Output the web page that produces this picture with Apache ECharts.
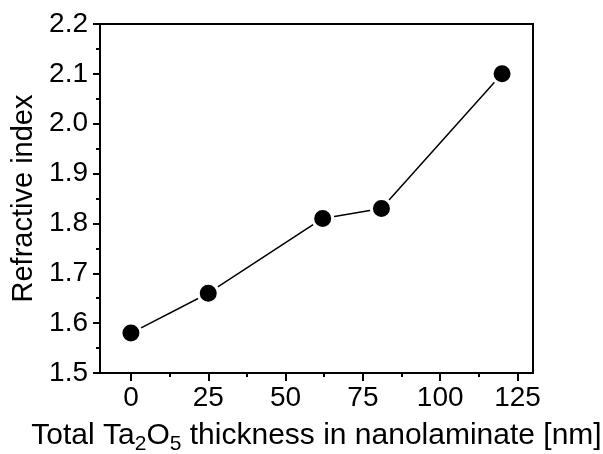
<!DOCTYPE html>
<html>
<head>
<meta charset="utf-8">
<script src="https://cdn.jsdelivr.net/npm/echarts@6/dist/echarts.min.js"></script>
<style>
html,body{margin:0;padding:0;background:#fff;}
#chart{width:603px;height:454px;}
</style>
</head>
<body>
<div id="chart"></div>
<script>
const thickness = [0, 25, 62, 81, 120];
const refractiveIndex = [1.58, 1.66, 1.81, 1.83, 2.10];
const xTicks = [0, 25, 50, 75, 100, 125];
const xMinorTicks = [12.5, 37.5, 62.5, 87.5, 112.5];
const xRange = [-10, 130];
const yRange = [1.5, 2.2];
const yInterval = 0.1;

const chart = echarts.init(document.getElementById('chart'), null, {renderer: 'canvas'});
const font = 'Liberation Sans, Arial, sans-serif';
const points = thickness.map((x, i) => [x, refractiveIndex[i]]);

chart.setOption({
  animation: false,
  backgroundColor: '#fff',
  grid: {left: 100, right: 70, top: 24, bottom: 81, containLabel: false, outerBoundsMode: 'none',
         show: true, borderColor: '#000', borderWidth: 2, backgroundColor: 'transparent'},
  xAxis: [{
    type: 'value', min: xRange[0], max: xRange[1], position: 'bottom',
    axisLine: {show: true, onZero: false, lineStyle: {color: '#000', width: 2}},
    axisTick: {show: true, inside: false, length: 8, customValues: xTicks, lineStyle: {color: '#000', width: 2}},
    axisLabel: {show: true, customValues: xTicks, margin: 11, color: '#000', fontSize: 28, fontFamily: font},
    splitLine: {show: false},
    name: 'Total Ta{sub|2}O{sub|5} thickness in nanolaminate [nm]',
    nameLocation: 'middle', nameGap: 61,
    nameTextStyle: {
      color: '#000', fontSize: 30, fontFamily: font, lineHeight: 38, verticalAlign: 'middle',
      rich: {sub: {fontSize: 21, fontFamily: font, color: '#000', lineHeight: 38, verticalAlign: 'bottom'}}
    }
  }, {
    type: 'value', min: xRange[0], max: xRange[1], position: 'bottom',
    axisLine: {show: false, onZero: false},
    axisTick: {show: true, inside: false, length: 4, customValues: xMinorTicks, lineStyle: {color: '#000', width: 2}},
    axisLabel: {show: false},
    splitLine: {show: false}
  }],
  yAxis: {
    type: 'value', min: yRange[0], max: yRange[1], interval: yInterval,
    axisLine: {show: true, onZero: false, lineStyle: {color: '#000', width: 2}},
    axisTick: {show: true, inside: false, length: 7, lineStyle: {color: '#000', width: 2}},
    minorTick: {show: true, splitNumber: 2, length: 4, lineStyle: {color: '#000', width: 2}},
    axisLabel: {margin: 12, color: '#000', fontSize: 28, fontFamily: font, formatter: v => v.toFixed(1)},
    splitLine: {show: false},
    name: 'Refractive index', nameLocation: 'middle', nameGap: 62,
    nameTextStyle: {color: '#000', fontSize: 29, fontFamily: font}
  },
  series: [{
    type: 'line',
    data: points,
    symbol: 'circle',
    symbolSize: 20,
    lineStyle: {color: '#000', width: 1.5},
    itemStyle: {color: '#000', borderColor: '#fff', borderWidth: 3},
    z: 3
  }]
});
</script>
</body>
</html>
